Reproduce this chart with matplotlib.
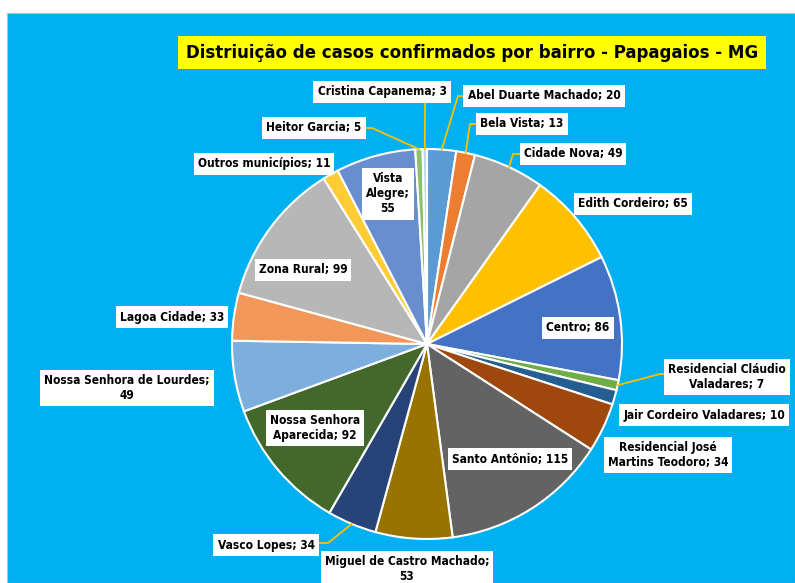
import numpy as np
import matplotlib
matplotlib.use("Agg")
import matplotlib.pyplot as plt
from matplotlib.patches import Rectangle
from matplotlib import font_manager
from matplotlib.font_manager import FontProperties

# data, clockwise from 12 o'clock
bairros = [
    "Abel Duarte Machado", "Bela Vista", "Cidade Nova", "Edith Cordeiro", "Centro",
    "Residencial Cláudio Valadares", "Jair Cordeiro Valadares",
    "Residencial José Martins Teodoro", "Santo Antônio", "Miguel de Castro Machado",
    "Vasco Lopes", "Nossa Senhora Aparecida", "Nossa Senhora de Lourdes",
    "Lagoa Cidade", "Zona Rural", "Outros municípios", "Vista Alegre",
    "Heitor Garcia", "Cristina Capanema",
]
casos = [20, 13, 49, 65, 86, 7, 10, 34, 115, 53, 34, 92, 49, 33, 99, 11, 55, 5, 3]
cores = [
    "#5B9BD5", "#ED7D31", "#A5A5A5", "#FFC000", "#4472C4", "#70AD47", "#255E91",
    "#9E480E", "#636363", "#997300", "#264478", "#43682B", "#7CAFDD", "#F1975A",
    "#B7B7B7", "#FFCD33", "#698ED0", "#8CC168", "#BDD7EE",
]
titulo = "Distriuição de casos confirmados por bairro - Papagaios - MG"

# how each label is written (line breaks as in the chart)
textos = {
    "Residencial Cláudio Valadares": "Residencial Cláudio\nValadares; 7",
    "Residencial José Martins Teodoro": "Residencial José\nMartins Teodoro; 34",
    "Miguel de Castro Machado": "Miguel de Castro Machado;\n53",
    "Nossa Senhora Aparecida": "Nossa Senhora\nAparecida; 92",
    "Nossa Senhora de Lourdes": "Nossa Senhora de Lourdes;\n49",
    "Vista Alegre": "Vista\nAlegre;\n55",
}

# layout, in pixels from top-left of the 795x583 image
W, H = 795, 583
cx, cy, raio = 427, 344, 195
pos_label = {
    "Abel Duarte Machado": (544, 96), "Bela Vista": (522, 124),
    "Cidade Nova": (573, 154), "Edith Cordeiro": (633, 204), "Centro": (578, 328),
    "Residencial Cláudio Valadares": (727, 377), "Jair Cordeiro Valadares": (704, 415),
    "Residencial José Martins Teodoro": (668, 455), "Santo Antônio": (510, 459),
    "Miguel de Castro Machado": (407, 569), "Vasco Lopes": (266, 545),
    "Nossa Senhora Aparecida": (315, 428), "Nossa Senhora de Lourdes": (127, 388),
    "Lagoa Cidade": (172, 317), "Zona Rural": (303, 270),
    "Outros municípios": (264, 164), "Vista Alegre": (388, 194),
    "Heitor Garcia": (314, 128), "Cristina Capanema": (382, 92),
}
# leader lines: elbow and end point near the label box
guias = {
    "Abel Duarte Machado": [(458, 96), (467, 96)],
    "Bela Vista": [(470, 124), (478, 124)],
    "Cidade Nova": [(513, 154), (521, 154)],
    "Residencial Cláudio Valadares": [(660, 374), (666, 374)],
    "Vasco Lopes": [(328, 543), (315, 543)],
    "Heitor Garcia": [(372, 128), (363, 128)],
    "Cristina Capanema": [(425, 103)],
}

# narrow font if there is one, otherwise Liberation Sans a bit smaller
cond = font_manager.findfont(FontProperties(family="DejaVu Sans", stretch="condensed",
                                            weight="bold"))
if "Condensed" in cond:
    fam, stretch, fs_lab, fs_tit = "DejaVu Sans", "condensed", 8.6, 13.3
else:
    fam, stretch, fs_lab, fs_tit = "Liberation Sans", "normal", 8.5, 13

fig = plt.figure(figsize=(W / 100, H / 100), dpi=100)
ax = fig.add_axes([0, 0, 1, 1])

ax.add_patch(Rectangle((7, 0), W - 7, H - 13, facecolor="#00B0F0", edgecolor="#BFBFBF",
                       linewidth=0.8, zorder=0))

wedges, _ = ax.pie(casos, colors=cores, startangle=90, counterclock=False,
                   center=(cx, H - cy), radius=raio, frame=True,
                   wedgeprops=dict(edgecolor="white", linewidth=1.5))

# mid angle of each wedge, for the leader lines
frac = np.cumsum(casos) - np.array(casos) / 2
ang = np.deg2rad(90 - frac / sum(casos) * 360)

for i, nome in enumerate(bairros):
    txt = textos.get(nome, f"{nome}; {casos[i]}")
    px, py = pos_label[nome]
    ax.text(px, H - py, txt, ha="center", va="center", fontsize=fs_lab,
            fontweight="bold", family=[fam, "DejaVu Sans"], fontstretch=stretch,
            color="black", linespacing=1.2, zorder=5,
            bbox=dict(boxstyle="square,pad=0.35", facecolor="white", edgecolor="none"))
    if nome in guias:
        xs = [cx + raio * np.cos(ang[i])] + [p[0] for p in guias[nome]]
        ys = [H - cy + raio * np.sin(ang[i])] + [H - p[1] for p in guias[nome]]
        ax.plot(xs, ys, color="#FFC000", linewidth=1.3, zorder=4)

# title on a yellow band
ax.add_patch(Rectangle((178, H - 69), 588, 33, facecolor="#FFFF00", edgecolor="none",
                       zorder=4))
ax.text(472, H - 52.5, titulo, ha="center", va="center", fontsize=fs_tit,
        fontweight="bold", family=[fam, "DejaVu Sans"], fontstretch=stretch,
        color="black", zorder=5)

ax.set_xlim(0, W)
ax.set_ylim(0, H)
ax.set_aspect("equal")
ax.axis("off")

fig.savefig("out.png", dpi=100, facecolor="white")
